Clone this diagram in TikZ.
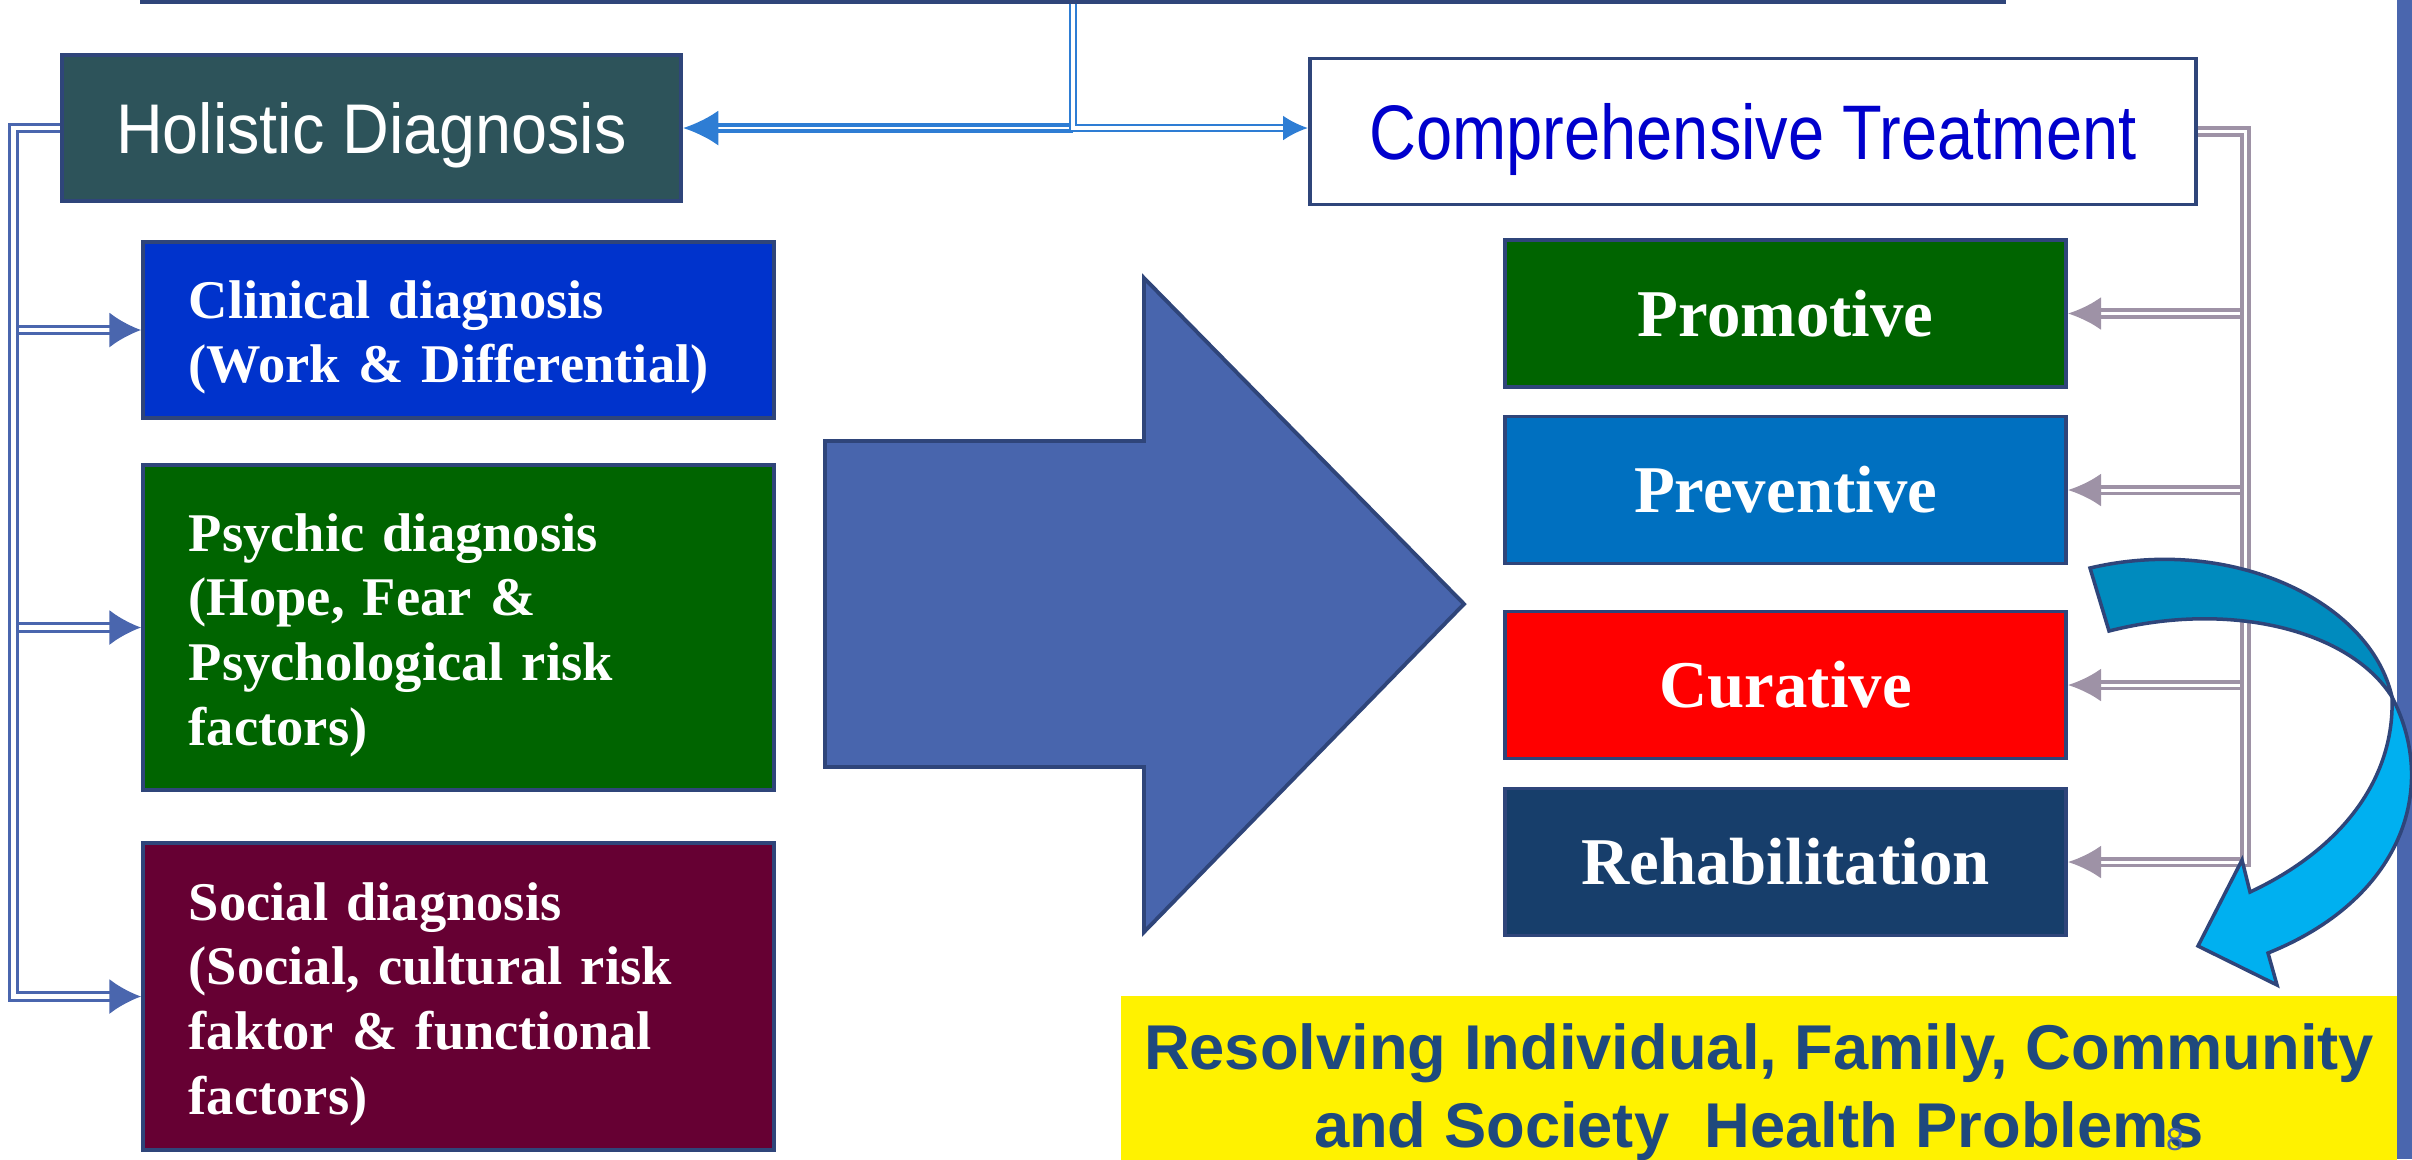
\documentclass[tikz,border=0pt]{standalone}
\usepackage{fontspec}
\setmainfont[WordSpace=0.85]{Liberation Serif}
\newfontfamily\holfont[FakeStretch=0.92]{Liberation Sans}
\newfontfamily\compfont[FakeStretch=0.84]{Liberation Sans}
\newfontfamily\goalfont{Liberation Sans}
\usetikzlibrary{arrows.meta}

\definecolor{navyline}{RGB}{47,69,122}
\definecolor{holteal}{RGB}{45,83,90}
\definecolor{compblue}{RGB}{0,0,204}
\definecolor{linkblue}{RGB}{46,125,212}
\definecolor{busblue}{RGB}{74,102,174}
\definecolor{busgrey}{RGB}{158,146,166}
\definecolor{clinblue}{RGB}{0,51,204}
\definecolor{psygreen}{RGB}{0,100,0}
\definecolor{socmaroon}{RGB}{102,0,51}
\definecolor{prevblue}{RGB}{0,112,192}
\definecolor{curred}{RGB}{255,0,0}
\definecolor{rehabnavy}{RGB}{23,62,107}
\definecolor{arrowblue}{RGB}{72,101,173}
\definecolor{swirldark}{RGB}{0,139,190}
\definecolor{swirllight}{RGB}{0,176,240}
\definecolor{goaltext}{RGB}{31,73,125}

\tikzset{
  headbox/.style={draw=navyline, line width=1.1pt, minimum height=1.46cm, text depth=0pt},
  diagbox/.style={draw=navyline, line width=1pt, text=white,
    font=\bfseries\fontsize{15.5}{18.4}\selectfont, text height=15pt,
    minimum width=6.31cm, text width=5.39cm, inner xsep=0.46cm, align=left},
  treatbox/.style={draw=navyline, line width=1pt, text=white,
    font=\bfseries\fontsize{19}{22}\selectfont,
    minimum width=5.61cm, minimum height=1.47cm},
  toplinkthin/.style={draw=linkblue, double=white, line width=0.6pt, double distance=1pt,
    -{Latex[length=7pt,width=7pt]}},
  toplinkthick/.style={draw=linkblue, double=white, line width=1pt, double distance=0.7pt,
    -{Latex[length=10pt,width=10pt]}},
  leftlink/.style={draw=busblue, double=white, line width=0.85pt, double distance=1.4pt,
    -{Latex[length=9pt,width=10pt]}},
  greylink/.style={draw=busgrey, double=white, line width=1.1pt, double distance=0.85pt,
    -{Latex[length=9.4pt,width=9.4pt]}}
}

\begin{document}
\begin{tikzpicture}[x=0.01cm,y=-0.01cm]
  \useasboundingbox (0,0) rectangle (2412,1159);

  % top box (cut off by the page)
  \node[draw=navyline, line width=1.4pt, fill=white, minimum width=18.6cm,
        minimum height=1cm, anchor=south] (top) at (1073,4) {};

  % the two heads
  \node[headbox, fill=holteal, minimum width=6.19cm, text=white,
        font=\holfont\fontsize{20}{24}\selectfont] (hol) at (371.5,128) {Holistic Diagnosis};
  \node[headbox, fill=white, minimum width=8.86cm, text=compblue,
        font=\compfont\fontsize{22}{26}\selectfont] (comp) at (1753,131.5) {Comprehensive Treatment};

  % diagnosis boxes
  \node[diagbox, fill=clinblue, minimum height=1.76cm] (clin) at (458.5,330)
    {Clinical diagnosis\\(Work \& Differential)};
  \node[diagbox, fill=psygreen, minimum height=3.25cm] (psy) at (458.5,627.5)
    {Psychic diagnosis\\(Hope, Fear \&\\Psychological risk\\factors)};
  \node[diagbox, fill=socmaroon, minimum height=3.07cm] (soc) at (458.5,996.5)
    {Social diagnosis\\(Social, cultural risk\\faktor \& functional\\factors)};

  % treatment boxes
  \foreach \n/\y/\c/\t in {promo/313.5/psygreen/Promotive, prev/490/prevblue/Preventive,
                           cur/685/curred/Curative, rehab/862/rehabnavy/Rehabilitation}
    \node[treatbox, fill=\c] (\n) at (1785.5,\y) {\t};

  % connectors
  \coordinate (tjoin) at (top.south |- hol.east);
  \coordinate (lbus) at ([xshift=-0.46cm]hol.west);
  \coordinate (rbus) at ([xshift=0.47cm]comp.east);

  \draw[toplinkthick] (tjoin) -- (hol.east);
  \draw[toplinkthin] (top.south) -- (tjoin) -- (comp.west |- tjoin);

  \foreach \b in {clin,psy,soc}
    \draw[leftlink] (hol.west) -- (lbus) |- (\b.west);
  \foreach \n in {promo,prev,cur,rehab}
    \draw[greylink] (comp.east) -- (rbus) |- (\n.east);

  % big block arrow
  \draw[fill=arrowblue, draw=navyline, line width=1.1pt, line join=miter]
    (825,441) -- (1144,441) -- (1144,278) -- (1464,604) -- (1144,932)
    -- (1144,767) -- (825,767) -- cycle;

  % right edge bar and goal box
  \fill[busblue] (2397,0) rectangle (2412,1159);
  \node[fill=yellow, minimum width=12.76cm, minimum height=1.92cm, text=goaltext,
        font=\goalfont\bfseries\fontsize{18}{22.2}\selectfont, align=center]
    (goal) at (1759,1092) {Resolving Individual, Family, Community\\and Society~ Health Problems};

  % curved arrow
  \filldraw[fill=swirldark, draw=navyline, line width=1pt]
    (2090,568) .. controls (2230,535) and (2370,600) .. (2392,697)
    .. controls (2350,630) and (2230,600) .. (2109,631) -- cycle;
  \filldraw[fill=swirllight, draw=navyline, line width=1pt, line join=miter]
    (2392,697) .. controls (2440,790) and (2400,900) .. (2268,953)
    -- (2277,985) -- (2198,946) -- (2242,860) -- (2250,892)
    .. controls (2340,850) and (2395,780) .. (2392,697) -- cycle;

  \node[text=busblue, font=\goalfont\fontsize{9}{9}\selectfont, inner sep=0pt] (pagenum) at (2175,1140) {8};
\end{tikzpicture}
\end{document}
